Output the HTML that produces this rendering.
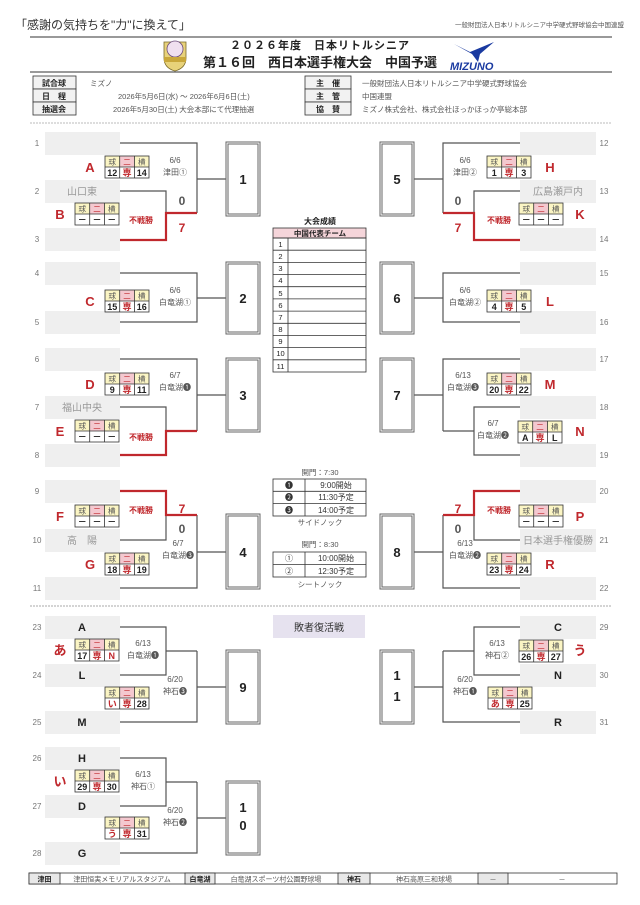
<!DOCTYPE html>
<html><head><meta charset="utf-8"><style>
html,body{margin:0;padding:0;background:#fff}
svg{display:block;font-family:"Liberation Sans","Noto Sans CJK JP",sans-serif}
.n{font-size:8px;fill:#777;text-anchor:middle}
.d{font-size:8px;fill:#555;text-anchor:middle}
.tl{font-size:13px;font-weight:bold;fill:#c0282d;text-anchor:middle}
.sl{font-size:11px;font-weight:bold;fill:#222;text-anchor:middle}
.gn{font-size:10px;fill:#999;text-anchor:middle}
.bx{font-size:13px;font-weight:bold;fill:#222;text-anchor:middle}
.th{font-size:7.5px;text-anchor:middle;fill:#555}
.tv{font-size:9px;font-weight:bold;text-anchor:middle;fill:#222}
.r{fill:#c0282d}
.sc{font-size:12px;font-weight:bold;text-anchor:middle}
.ln{fill:none;stroke:#555;stroke-width:1.2}
.rd{fill:none;stroke:#c0282d;stroke-width:2.2}
.s{font-size:8px;fill:#444}
</style></head><body>
<svg width="640" height="905" viewBox="0 0 640 905">
<!-- header -->
<text x="15" y="29" font-size="12" fill="#333">「感謝の気持ちを"力"に換えて」</text>
<text x="624" y="27" font-size="6.5" fill="#555" text-anchor="end">一般財団法人日本リトルシニア中学硬式野球協会中国連盟</text>
<line x1="30" y1="37" x2="612" y2="37" stroke="#333" stroke-width="1"/>
<line x1="30" y1="72" x2="612" y2="72" stroke="#333" stroke-width="1"/>
<text x="320" y="49" font-size="11" font-weight="bold" text-anchor="middle" fill="#222" letter-spacing="1">２０２６年度　日本リトルシニア</text>
<text x="320" y="67" font-size="13" font-weight="bold" text-anchor="middle" fill="#222">第１６回　西日本選手権大会　中国予選</text>
<g transform="translate(175,54)"><path d="M-11,-12 H11 V4 Q11,14 0,17 Q-11,14 -11,4Z" fill="#e8d27a" stroke="#7a6a2a" stroke-width=".8"/><circle cy="-5" r="8" fill="#f0e0ef" stroke="#6a4a7a" stroke-width=".8"/><rect x="-11" y="3" width="22" height="5" fill="#c9a73a"/></g>
<g transform="translate(450,40)"><path d="M4,4 L20,12 L44,2 L30,14 L28,22 L22,14 Z" fill="#1a3aa0"/><text x="0" y="30" font-size="11" font-weight="bold" font-style="italic" fill="#1a3aa0">MIZUNO</text></g>
<!-- info -->
<g stroke="#333" stroke-width=".8" fill="#f2f2f2">
<rect x="33" y="76" width="43" height="13"/><rect x="33" y="89" width="43" height="13"/><rect x="33" y="102" width="43" height="13"/>
<rect x="305" y="76" width="46" height="13"/><rect x="305" y="89" width="46" height="13"/><rect x="305" y="102" width="46" height="13"/>
</g>
<g font-size="8" font-weight="bold" text-anchor="middle" fill="#222">
<text x="54" y="86">試合球</text><text x="54" y="99">日　程</text><text x="54" y="112">抽選会</text>
<text x="328" y="86">主　催</text><text x="328" y="99">主　管</text><text x="328" y="112">協　賛</text>
</g>
<g font-size="7.5" fill="#555">
<text x="90" y="86">ミズノ</text><text x="118" y="99">2026年5月6日(水) ～  2026年6月6日(土)</text><text x="113" y="112">2026年5月30日(土) 大会本部にて代理抽選</text>
<text x="362" y="86">一般財団法人日本リトルシニア中学硬式野球協会</text><text x="362" y="99">中国連盟</text><text x="362" y="112">ミズノ株式会社、株式会社ほっかほっか亭総本部</text>
</g>
<line x1="30" y1="123" x2="612" y2="123" stroke="#bbb" stroke-dasharray="2,1"/>

<!-- slots -->
<g fill="#efefef">
<rect x="45" y="132" width="75" height="23"/><rect x="45" y="180" width="75" height="23"/><rect x="45" y="228" width="75" height="23"/>
<rect x="45" y="262" width="75" height="23"/><rect x="45" y="311" width="75" height="23"/>
<rect x="45" y="348" width="75" height="23"/><rect x="45" y="396" width="75" height="23"/><rect x="45" y="444" width="75" height="23"/>
<rect x="45" y="480" width="75" height="23"/><rect x="45" y="529" width="75" height="23"/><rect x="45" y="577" width="75" height="23"/>
<rect x="45" y="616" width="75" height="23"/><rect x="45" y="664" width="75" height="23"/><rect x="45" y="711" width="75" height="23"/>
<rect x="45" y="747" width="75" height="23"/><rect x="45" y="795" width="75" height="23"/><rect x="45" y="842" width="75" height="23"/>
<rect x="520" y="132" width="76" height="23"/><rect x="520" y="180" width="76" height="23"/><rect x="520" y="228" width="76" height="23"/>
<rect x="520" y="262" width="76" height="23"/><rect x="520" y="311" width="76" height="23"/>
<rect x="520" y="348" width="76" height="23"/><rect x="520" y="396" width="76" height="23"/><rect x="520" y="444" width="76" height="23"/>
<rect x="520" y="480" width="76" height="23"/><rect x="520" y="529" width="76" height="23"/><rect x="520" y="577" width="76" height="23"/>
<rect x="520" y="616" width="76" height="23"/><rect x="520" y="664" width="76" height="23"/><rect x="520" y="711" width="76" height="23"/>
</g>
<g class="n">
<text x="37" y="146">1</text><text x="37" y="194">2</text><text x="37" y="242">3</text><text x="37" y="276">4</text><text x="37" y="325">5</text>
<text x="37" y="362">6</text><text x="37" y="410">7</text><text x="37" y="458">8</text><text x="37" y="494">9</text><text x="37" y="543">10</text><text x="37" y="591">11</text>
<text x="37" y="630">23</text><text x="37" y="678">24</text><text x="37" y="725">25</text><text x="37" y="761">26</text><text x="37" y="809">27</text><text x="37" y="856">28</text>
<text x="604" y="146">12</text><text x="604" y="194">13</text><text x="604" y="242">14</text><text x="604" y="276">15</text><text x="604" y="325">16</text>
<text x="604" y="362">17</text><text x="604" y="410">18</text><text x="604" y="458">19</text><text x="604" y="494">20</text><text x="604" y="543">21</text><text x="604" y="591">22</text>
<text x="604" y="630">29</text><text x="604" y="678">30</text><text x="604" y="725">31</text>
</g>
<g class="gn">
<text x="82" y="195">山口東</text><text x="82" y="411">福山中央</text><text x="82" y="544">高　陽</text>
<text x="558" y="195">広島瀬戸内</text><text x="558" y="544">日本選手権優勝</text>
</g>
<g class="sl">
<text x="82" y="631">A</text><text x="82" y="679">L</text><text x="82" y="726">M</text>
<text x="82" y="762">H</text><text x="82" y="810">D</text><text x="82" y="857">G</text>
<text x="558" y="631">C</text><text x="558" y="679">N</text><text x="558" y="726">R</text>
</g>

<!-- connector lines left -->
<g class="ln">
<path d="M120 143H197V213"/><path d="M120 191H166V213"/><path d="M197 179H227"/>
<path d="M120 273H197V322H120"/><path d="M197 298H227"/>
<path d="M120 359H197V431"/><path d="M120 407H166V431"/><path d="M197 395H227"/>
<path d="M120 540H166V515"/><path d="M120 588H197V515"/><path d="M197 552H227"/>
<path d="M120 627H166V675H120"/><path d="M166 651H197"/><path d="M120 722H197V651"/><path d="M197 687H227"/>
<path d="M120 758H166V806H120"/><path d="M166 782H197"/><path d="M120 853H197V782"/><path d="M197 818H227"/>
<!-- right -->
<path d="M520 143H443V213"/><path d="M520 191H474V213"/><path d="M443 179H413"/>
<path d="M520 273H443V322H520"/><path d="M443 298H413"/>
<path d="M520 359H443V431"/><path d="M520 407H474V455H520"/><path d="M474 431H443"/><path d="M443 395H413"/>
<path d="M520 540H474V515"/><path d="M520 588H443V515"/><path d="M443 552H413"/>
<path d="M520 627H474V675H520"/><path d="M474 651H443"/><path d="M520 722H443V651"/><path d="M443 687H413"/>
</g>
<g class="rd">
<path d="M120 240H166V213H197"/><path d="M120 455H166V431H197"/><path d="M120 491H166V515H197"/>
<path d="M520 240H474V213H443"/><path d="M520 491H474V515H443"/>
</g>

<!-- boxes -->
<g fill="#fff" stroke="#666">
<rect x="227" y="143" width="32" height="72" stroke-width="3"/><rect x="227" y="263" width="32" height="70" stroke-width="3"/>
<rect x="227" y="359" width="32" height="72" stroke-width="3"/><rect x="227" y="515" width="32" height="73" stroke-width="3"/>
<rect x="227" y="651" width="32" height="72" stroke-width="3"/><rect x="227" y="782" width="32" height="72" stroke-width="3"/>
<rect x="381" y="143" width="32" height="72" stroke-width="3"/><rect x="381" y="263" width="32" height="70" stroke-width="3"/>
<rect x="381" y="359" width="32" height="72" stroke-width="3"/><rect x="381" y="515" width="32" height="73" stroke-width="3"/>
<rect x="381" y="651" width="32" height="72" stroke-width="3"/>
</g>
<g fill="none" stroke="#fff" stroke-width="1">
<rect x="227" y="143" width="32" height="72"/><rect x="227" y="263" width="32" height="70"/><rect x="227" y="359" width="32" height="72"/><rect x="227" y="515" width="32" height="73"/><rect x="227" y="651" width="32" height="72"/><rect x="227" y="782" width="32" height="72"/>
<rect x="381" y="143" width="32" height="72"/><rect x="381" y="263" width="32" height="70"/><rect x="381" y="359" width="32" height="72"/><rect x="381" y="515" width="32" height="73"/><rect x="381" y="651" width="32" height="72"/>
</g>
<g class="bx">
<text x="243" y="184">1</text><text x="243" y="303">2</text><text x="243" y="400">3</text><text x="243" y="557">4</text><text x="243" y="692">9</text>
<text x="243" y="812">1</text><text x="243" y="830">0</text>
<text x="397" y="184">5</text><text x="397" y="303">6</text><text x="397" y="400">7</text><text x="397" y="557">8</text>
<text x="397" y="680">1</text><text x="397" y="701">1</text>
</g>

<!-- dates -->
<g class="d">
<text x="175" y="163">6/6</text><text x="175" y="175">津田①</text>
<text x="175" y="293">6/6</text><text x="175" y="305">白竜湖①</text>
<text x="175" y="378">6/7</text><text x="175" y="390">白竜湖❶</text>
<text x="178" y="546">6/7</text><text x="178" y="558">白竜湖❸</text>
<text x="143" y="646">6/13</text><text x="143" y="658">白竜湖❶</text>
<text x="175" y="682">6/20</text><text x="175" y="694">神石❸</text>
<text x="143" y="777">6/13</text><text x="143" y="789">神石①</text>
<text x="175" y="813">6/20</text><text x="175" y="825">神石❷</text>
<text x="465" y="163">6/6</text><text x="465" y="175">津田②</text>
<text x="465" y="293">6/6</text><text x="465" y="305">白竜湖②</text>
<text x="463" y="378">6/13</text><text x="463" y="390">白竜湖❸</text>
<text x="493" y="426">6/7</text><text x="493" y="438">白竜湖❷</text>
<text x="465" y="546">6/13</text><text x="465" y="558">白竜湖❷</text>
<text x="497" y="646">6/13</text><text x="497" y="658">神石②</text>
<text x="465" y="682">6/20</text><text x="465" y="694">神石❶</text>
</g>
<g font-size="8" fill="#c0282d" text-anchor="middle" font-weight="bold">
<text x="141" y="223">不戦勝</text><text x="141" y="440">不戦勝</text><text x="141" y="513">不戦勝</text>
<text x="499" y="223">不戦勝</text><text x="499" y="513">不戦勝</text>
</g>
<g class="sc">
<text x="182" y="205" fill="#555">0</text><text x="182" y="232" fill="#c0282d">7</text>
<text x="182" y="513" fill="#c0282d">7</text><text x="182" y="533" fill="#555">0</text>
<text x="458" y="205" fill="#555">0</text><text x="458" y="232" fill="#c0282d">7</text>
<text x="458" y="513" fill="#c0282d">7</text><text x="458" y="533" fill="#555">0</text>
</g>

<!-- team letters -->
<g class="tl">
<text x="90" y="172">A</text><text x="60" y="219">B</text><text x="90" y="306">C</text><text x="90" y="389">D</text>
<text x="60" y="436">E</text><text x="60" y="521">F</text><text x="90" y="569">G</text><text x="60" y="655">あ</text><text x="60" y="786">い</text>
<text x="550" y="172">H</text><text x="580" y="219">K</text><text x="550" y="306">L</text><text x="550" y="389">M</text>
<text x="580" y="436">N</text><text x="580" y="521">P</text><text x="550" y="569">R</text><text x="580" y="655">う</text>
</g>

<!-- score tables -->
<defs></defs>
<g id="tables">
<!-- each: translate(x,y) -->
<g transform="translate(105,156)"><rect width="14.7" height="11" fill="#fbf5c4"/><rect x="14.7" width="14.7" height="11" fill="#f4c8cf"/><rect x="29.4" width="14.6" height="11" fill="#fbf5c4"/><rect width="44" height="22" fill="none" stroke="#333" stroke-width=".8"/><path d="M14.7 0V22M29.4 0V22M0 11H44" stroke="#333" stroke-width=".8"/><text class="th" x="7.3" y="8.5">球</text><text class="th r" x="22" y="8.5">二</text><text class="th" x="36.7" y="8.5">横</text><text class="tv" x="7.3" y="20">12</text><text class="tv r" x="22" y="20">専</text><text class="tv" x="36.7" y="20">14</text></g>
<g transform="translate(75,203)"><rect width="14.7" height="11" fill="#fbf5c4"/><rect x="14.7" width="14.7" height="11" fill="#f4c8cf"/><rect x="29.4" width="14.6" height="11" fill="#fbf5c4"/><rect width="44" height="22" fill="none" stroke="#333" stroke-width=".8"/><path d="M14.7 0V22M29.4 0V22M0 11H44" stroke="#333" stroke-width=".8"/><text class="th" x="7.3" y="8.5">球</text><text class="th r" x="22" y="8.5">二</text><text class="th" x="36.7" y="8.5">横</text><text class="tv" x="7.3" y="20">－</text><text class="tv" x="22" y="20">－</text><text class="tv" x="36.7" y="20">－</text></g>
<g transform="translate(105,290)"><rect width="14.7" height="11" fill="#fbf5c4"/><rect x="14.7" width="14.7" height="11" fill="#f4c8cf"/><rect x="29.4" width="14.6" height="11" fill="#fbf5c4"/><rect width="44" height="22" fill="none" stroke="#333" stroke-width=".8"/><path d="M14.7 0V22M29.4 0V22M0 11H44" stroke="#333" stroke-width=".8"/><text class="th" x="7.3" y="8.5">球</text><text class="th r" x="22" y="8.5">二</text><text class="th" x="36.7" y="8.5">横</text><text class="tv" x="7.3" y="20">15</text><text class="tv r" x="22" y="20">専</text><text class="tv" x="36.7" y="20">16</text></g>
<g transform="translate(105,373)"><rect width="14.7" height="11" fill="#fbf5c4"/><rect x="14.7" width="14.7" height="11" fill="#f4c8cf"/><rect x="29.4" width="14.6" height="11" fill="#fbf5c4"/><rect width="44" height="22" fill="none" stroke="#333" stroke-width=".8"/><path d="M14.7 0V22M29.4 0V22M0 11H44" stroke="#333" stroke-width=".8"/><text class="th" x="7.3" y="8.5">球</text><text class="th r" x="22" y="8.5">二</text><text class="th" x="36.7" y="8.5">横</text><text class="tv" x="7.3" y="20">9</text><text class="tv r" x="22" y="20">専</text><text class="tv" x="36.7" y="20">11</text></g>
<g transform="translate(75,420)"><rect width="14.7" height="11" fill="#fbf5c4"/><rect x="14.7" width="14.7" height="11" fill="#f4c8cf"/><rect x="29.4" width="14.6" height="11" fill="#fbf5c4"/><rect width="44" height="22" fill="none" stroke="#333" stroke-width=".8"/><path d="M14.7 0V22M29.4 0V22M0 11H44" stroke="#333" stroke-width=".8"/><text class="th" x="7.3" y="8.5">球</text><text class="th r" x="22" y="8.5">二</text><text class="th" x="36.7" y="8.5">横</text><text class="tv" x="7.3" y="20">－</text><text class="tv" x="22" y="20">－</text><text class="tv" x="36.7" y="20">－</text></g>
<g transform="translate(75,505)"><rect width="14.7" height="11" fill="#fbf5c4"/><rect x="14.7" width="14.7" height="11" fill="#f4c8cf"/><rect x="29.4" width="14.6" height="11" fill="#fbf5c4"/><rect width="44" height="22" fill="none" stroke="#333" stroke-width=".8"/><path d="M14.7 0V22M29.4 0V22M0 11H44" stroke="#333" stroke-width=".8"/><text class="th" x="7.3" y="8.5">球</text><text class="th r" x="22" y="8.5">二</text><text class="th" x="36.7" y="8.5">横</text><text class="tv" x="7.3" y="20">－</text><text class="tv" x="22" y="20">－</text><text class="tv" x="36.7" y="20">－</text></g>
<g transform="translate(105,553)"><rect width="14.7" height="11" fill="#fbf5c4"/><rect x="14.7" width="14.7" height="11" fill="#f4c8cf"/><rect x="29.4" width="14.6" height="11" fill="#fbf5c4"/><rect width="44" height="22" fill="none" stroke="#333" stroke-width=".8"/><path d="M14.7 0V22M29.4 0V22M0 11H44" stroke="#333" stroke-width=".8"/><text class="th" x="7.3" y="8.5">球</text><text class="th r" x="22" y="8.5">二</text><text class="th" x="36.7" y="8.5">横</text><text class="tv" x="7.3" y="20">18</text><text class="tv r" x="22" y="20">専</text><text class="tv" x="36.7" y="20">19</text></g>
<g transform="translate(75,639)"><rect width="14.7" height="11" fill="#fbf5c4"/><rect x="14.7" width="14.7" height="11" fill="#f4c8cf"/><rect x="29.4" width="14.6" height="11" fill="#fbf5c4"/><rect width="44" height="22" fill="none" stroke="#333" stroke-width=".8"/><path d="M14.7 0V22M29.4 0V22M0 11H44" stroke="#333" stroke-width=".8"/><text class="th" x="7.3" y="8.5">球</text><text class="th r" x="22" y="8.5">二</text><text class="th" x="36.7" y="8.5">横</text><text class="tv" x="7.3" y="20">17</text><text class="tv r" x="22" y="20">専</text><text class="tv r" x="36.7" y="20">N</text></g>
<g transform="translate(105,687)"><rect width="14.7" height="11" fill="#fbf5c4"/><rect x="14.7" width="14.7" height="11" fill="#f4c8cf"/><rect x="29.4" width="14.6" height="11" fill="#fbf5c4"/><rect width="44" height="22" fill="none" stroke="#333" stroke-width=".8"/><path d="M14.7 0V22M29.4 0V22M0 11H44" stroke="#333" stroke-width=".8"/><text class="th" x="7.3" y="8.5">球</text><text class="th r" x="22" y="8.5">二</text><text class="th" x="36.7" y="8.5">横</text><text class="tv r" x="7.3" y="20">い</text><text class="tv r" x="22" y="20">専</text><text class="tv" x="36.7" y="20">28</text></g>
<g transform="translate(75,770)"><rect width="14.7" height="11" fill="#fbf5c4"/><rect x="14.7" width="14.7" height="11" fill="#f4c8cf"/><rect x="29.4" width="14.6" height="11" fill="#fbf5c4"/><rect width="44" height="22" fill="none" stroke="#333" stroke-width=".8"/><path d="M14.7 0V22M29.4 0V22M0 11H44" stroke="#333" stroke-width=".8"/><text class="th" x="7.3" y="8.5">球</text><text class="th r" x="22" y="8.5">二</text><text class="th" x="36.7" y="8.5">横</text><text class="tv" x="7.3" y="20">29</text><text class="tv r" x="22" y="20">専</text><text class="tv" x="36.7" y="20">30</text></g>
<g transform="translate(105,817)"><rect width="14.7" height="11" fill="#fbf5c4"/><rect x="14.7" width="14.7" height="11" fill="#f4c8cf"/><rect x="29.4" width="14.6" height="11" fill="#fbf5c4"/><rect width="44" height="22" fill="none" stroke="#333" stroke-width=".8"/><path d="M14.7 0V22M29.4 0V22M0 11H44" stroke="#333" stroke-width=".8"/><text class="th" x="7.3" y="8.5">球</text><text class="th r" x="22" y="8.5">二</text><text class="th" x="36.7" y="8.5">横</text><text class="tv r" x="7.3" y="20">う</text><text class="tv r" x="22" y="20">専</text><text class="tv" x="36.7" y="20">31</text></g>
<!-- right -->
<g transform="translate(487,156)"><rect width="14.7" height="11" fill="#fbf5c4"/><rect x="14.7" width="14.7" height="11" fill="#f4c8cf"/><rect x="29.4" width="14.6" height="11" fill="#fbf5c4"/><rect width="44" height="22" fill="none" stroke="#333" stroke-width=".8"/><path d="M14.7 0V22M29.4 0V22M0 11H44" stroke="#333" stroke-width=".8"/><text class="th" x="7.3" y="8.5">球</text><text class="th r" x="22" y="8.5">二</text><text class="th" x="36.7" y="8.5">横</text><text class="tv" x="7.3" y="20">1</text><text class="tv r" x="22" y="20">専</text><text class="tv" x="36.7" y="20">3</text></g>
<g transform="translate(519,203)"><rect width="14.7" height="11" fill="#fbf5c4"/><rect x="14.7" width="14.7" height="11" fill="#f4c8cf"/><rect x="29.4" width="14.6" height="11" fill="#fbf5c4"/><rect width="44" height="22" fill="none" stroke="#333" stroke-width=".8"/><path d="M14.7 0V22M29.4 0V22M0 11H44" stroke="#333" stroke-width=".8"/><text class="th" x="7.3" y="8.5">球</text><text class="th r" x="22" y="8.5">二</text><text class="th" x="36.7" y="8.5">横</text><text class="tv" x="7.3" y="20">－</text><text class="tv" x="22" y="20">－</text><text class="tv" x="36.7" y="20">－</text></g>
<g transform="translate(487,290)"><rect width="14.7" height="11" fill="#fbf5c4"/><rect x="14.7" width="14.7" height="11" fill="#f4c8cf"/><rect x="29.4" width="14.6" height="11" fill="#fbf5c4"/><rect width="44" height="22" fill="none" stroke="#333" stroke-width=".8"/><path d="M14.7 0V22M29.4 0V22M0 11H44" stroke="#333" stroke-width=".8"/><text class="th" x="7.3" y="8.5">球</text><text class="th r" x="22" y="8.5">二</text><text class="th" x="36.7" y="8.5">横</text><text class="tv" x="7.3" y="20">4</text><text class="tv r" x="22" y="20">専</text><text class="tv" x="36.7" y="20">5</text></g>
<g transform="translate(487,373)"><rect width="14.7" height="11" fill="#fbf5c4"/><rect x="14.7" width="14.7" height="11" fill="#f4c8cf"/><rect x="29.4" width="14.6" height="11" fill="#fbf5c4"/><rect width="44" height="22" fill="none" stroke="#333" stroke-width=".8"/><path d="M14.7 0V22M29.4 0V22M0 11H44" stroke="#333" stroke-width=".8"/><text class="th" x="7.3" y="8.5">球</text><text class="th r" x="22" y="8.5">二</text><text class="th" x="36.7" y="8.5">横</text><text class="tv" x="7.3" y="20">20</text><text class="tv r" x="22" y="20">専</text><text class="tv" x="36.7" y="20">22</text></g>
<g transform="translate(518,421)"><rect width="14.7" height="11" fill="#fbf5c4"/><rect x="14.7" width="14.7" height="11" fill="#f4c8cf"/><rect x="29.4" width="14.6" height="11" fill="#fbf5c4"/><rect width="44" height="22" fill="none" stroke="#333" stroke-width=".8"/><path d="M14.7 0V22M29.4 0V22M0 11H44" stroke="#333" stroke-width=".8"/><text class="th" x="7.3" y="8.5">球</text><text class="th r" x="22" y="8.5">二</text><text class="th" x="36.7" y="8.5">横</text><text class="tv" x="7.3" y="20">A</text><text class="tv r" x="22" y="20">専</text><text class="tv" x="36.7" y="20">L</text></g>
<g transform="translate(519,505)"><rect width="14.7" height="11" fill="#fbf5c4"/><rect x="14.7" width="14.7" height="11" fill="#f4c8cf"/><rect x="29.4" width="14.6" height="11" fill="#fbf5c4"/><rect width="44" height="22" fill="none" stroke="#333" stroke-width=".8"/><path d="M14.7 0V22M29.4 0V22M0 11H44" stroke="#333" stroke-width=".8"/><text class="th" x="7.3" y="8.5">球</text><text class="th r" x="22" y="8.5">二</text><text class="th" x="36.7" y="8.5">横</text><text class="tv" x="7.3" y="20">－</text><text class="tv" x="22" y="20">－</text><text class="tv" x="36.7" y="20">－</text></g>
<g transform="translate(487,553)"><rect width="14.7" height="11" fill="#fbf5c4"/><rect x="14.7" width="14.7" height="11" fill="#f4c8cf"/><rect x="29.4" width="14.6" height="11" fill="#fbf5c4"/><rect width="44" height="22" fill="none" stroke="#333" stroke-width=".8"/><path d="M14.7 0V22M29.4 0V22M0 11H44" stroke="#333" stroke-width=".8"/><text class="th" x="7.3" y="8.5">球</text><text class="th r" x="22" y="8.5">二</text><text class="th" x="36.7" y="8.5">横</text><text class="tv" x="7.3" y="20">23</text><text class="tv r" x="22" y="20">専</text><text class="tv" x="36.7" y="20">24</text></g>
<g transform="translate(519,640)"><rect width="14.7" height="11" fill="#fbf5c4"/><rect x="14.7" width="14.7" height="11" fill="#f4c8cf"/><rect x="29.4" width="14.6" height="11" fill="#fbf5c4"/><rect width="44" height="22" fill="none" stroke="#333" stroke-width=".8"/><path d="M14.7 0V22M29.4 0V22M0 11H44" stroke="#333" stroke-width=".8"/><text class="th" x="7.3" y="8.5">球</text><text class="th r" x="22" y="8.5">二</text><text class="th" x="36.7" y="8.5">横</text><text class="tv" x="7.3" y="20">26</text><text class="tv r" x="22" y="20">専</text><text class="tv" x="36.7" y="20">27</text></g>
<g transform="translate(488,687)"><rect width="14.7" height="11" fill="#fbf5c4"/><rect x="14.7" width="14.7" height="11" fill="#f4c8cf"/><rect x="29.4" width="14.6" height="11" fill="#fbf5c4"/><rect width="44" height="22" fill="none" stroke="#333" stroke-width=".8"/><path d="M14.7 0V22M29.4 0V22M0 11H44" stroke="#333" stroke-width=".8"/><text class="th" x="7.3" y="8.5">球</text><text class="th r" x="22" y="8.5">二</text><text class="th" x="36.7" y="8.5">横</text><text class="tv r" x="7.3" y="20">あ</text><text class="tv r" x="22" y="20">専</text><text class="tv" x="36.7" y="20">25</text></g>
</g>

<!-- results table -->
<text x="320" y="224" font-size="8" font-weight="bold" text-anchor="middle" fill="#222">大会成績</text>
<rect x="273" y="228" width="93" height="10" fill="#f5d5da" stroke="#333" stroke-width=".8"/>
<text x="320" y="236" font-size="7.5" font-weight="bold" text-anchor="middle" fill="#222">中国代表チーム</text>
<g stroke="#333" stroke-width=".8" fill="none">
<rect x="273" y="238" width="93" height="134"/><line x1="288" y1="238" x2="288" y2="372"/>
<path d="M273 250.2H366M273 262.4H366M273 274.5H366M273 286.7H366M273 298.9H366M273 311.1H366M273 323.3H366M273 335.5H366M273 347.6H366M273 359.8H366"/>
</g>
<g font-size="7.5" fill="#222" text-anchor="middle">
<text x="280.5" y="247">1</text><text x="280.5" y="259">2</text><text x="280.5" y="271">3</text><text x="280.5" y="283">4</text><text x="280.5" y="296">5</text><text x="280.5" y="308">6</text><text x="280.5" y="320">7</text><text x="280.5" y="332">8</text><text x="280.5" y="344">9</text><text x="280.5" y="356">10</text><text x="280.5" y="369">11</text>
</g>

<!-- time tables -->
<g font-size="7.5" fill="#555" text-anchor="middle">
<text x="320" y="475">開門：7:30</text><text x="320" y="525">サイドノック</text>
<text x="320" y="547">開門：8:30</text><text x="320" y="587">シートノック</text>
</g>
<g stroke="#333" stroke-width=".8" fill="none">
<rect x="273" y="479" width="93" height="37"/><line x1="305" y1="479" x2="305" y2="516"/><path d="M273 491.3H366M273 503.6H366"/>
<rect x="273" y="552" width="93" height="25"/><line x1="305" y1="552" x2="305" y2="577"/><path d="M273 564.5H366"/>
</g>
<g font-size="8" fill="#333" text-anchor="middle">
<text x="289" y="488">❶</text><text x="289" y="500">❷</text><text x="289" y="513">❸</text>
<text x="336" y="488">9:00開始</text><text x="336" y="500">11:30予定</text><text x="336" y="513">14:00予定</text>
<text x="289" y="561">①</text><text x="289" y="574">②</text>
<text x="336" y="561">10:00開始</text><text x="336" y="574">12:30予定</text>
</g>

<line x1="30" y1="606" x2="612" y2="606" stroke="#aaa" stroke-dasharray="2,1"/>
<rect x="273" y="615" width="92" height="23" fill="#e6e2ef"/>
<text x="319" y="631" font-size="10" text-anchor="middle" fill="#333">敗者復活戦</text>

<!-- footer -->
<g stroke="#333" stroke-width=".8">
<rect x="29" y="873" width="588" height="11" fill="#fff"/>
<rect x="29" y="873" width="31" height="11" fill="#e8e8e8"/><rect x="185" y="873" width="30" height="11" fill="#e8e8e8"/><rect x="338" y="873" width="32" height="11" fill="#e8e8e8"/><rect x="478" y="873" width="30" height="11" fill="#e8e8e8"/>
</g>
<g font-size="7" text-anchor="middle" fill="#555">
<text x="44.5" y="881.5" font-weight="bold" fill="#222">津田</text><text x="122" y="881.5">津田恒実メモリアルスタジアム</text>
<text x="200" y="881.5" font-weight="bold" fill="#222">白竜湖</text><text x="276" y="881.5">白竜湖スポーツ村公園野球場</text>
<text x="354" y="881.5" font-weight="bold" fill="#222">神石</text><text x="424" y="881.5">神石高原三和球場</text>
<text x="493" y="881.5">－</text><text x="562" y="881.5">－</text>
</g>
</svg>
</body></html>
